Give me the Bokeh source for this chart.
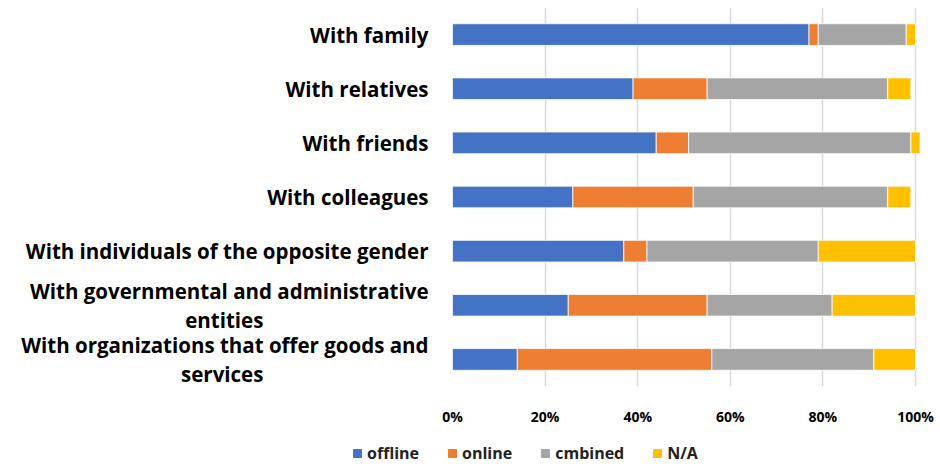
from bokeh.plotting import figure
from bokeh.layouts import column, row
from bokeh.models import Range1d, Legend, LegendItem, NumeralTickFormatter, FixedTicker
from bokeh.embed import file_html
from bokeh.resources import INLINE

PAD = "\u00a0"
categories = [
    "With family",
    "With relatives",
    "With friends",
    "With colleagues",
    "With individuals of the opposite gender",
    "With governmental and administrative\nentities" + PAD * 31,
    "With organizations that offer goods and\nservices" + PAD * 31,
]
offline = [0.77, 0.39, 0.44, 0.26, 0.37, 0.25, 0.14]
online = [0.02, 0.16, 0.07, 0.26, 0.05, 0.30, 0.42]
combined = [0.19, 0.39, 0.48, 0.42, 0.37, 0.27, 0.35]
na = [0.02, 0.05, 0.02, 0.05, 0.21, 0.18, 0.09]
series = ["offline", "online", "combined", "na"]
legend_labels = ["offline", "online", "cmbined", "N/A"]
colors = ["#4472C4", "#ED7D31", "#A5A5A5", "#FFC000"]
ticks = [0, 0.2, 0.4, 0.6, 0.8, 1.0]

FONT = "Open Sans"

data = dict(cat=categories, offline=offline, online=online, combined=combined, na=na)

p = figure(
    width=936, height=428,
    y_range=list(reversed(categories)),
    x_range=Range1d(0, 1.0367),
    output_backend="svg", toolbar_location=None,
    min_border_left=452, min_border_right=4, min_border_top=7, min_border_bottom=32,
)
p.outline_line_color = None

renderers = p.hbar_stack(series, y="cat", height=0.4, color=colors, source=data,
                         line_color="white", line_width=0.8)

p.xaxis.ticker = FixedTicker(ticks=ticks)
p.xaxis.formatter = NumeralTickFormatter(format="0%")
p.xaxis.axis_line_color = None
p.xaxis.major_tick_line_color = None
p.xaxis.minor_tick_line_color = None
p.xaxis.major_label_text_font = FONT
p.xaxis.major_label_text_font_style = "bold"
p.xaxis.major_label_text_font_size = "14px"
p.xaxis.major_label_text_color = "#000000"
p.xaxis.major_label_standoff = 14

p.yaxis.axis_line_color = None
p.yaxis.major_tick_line_color = None
p.yaxis.minor_tick_line_color = None
p.yaxis.major_label_text_font = FONT
p.yaxis.major_label_text_font_style = "bold"
p.yaxis.major_label_text_font_size = "20.5px"
p.yaxis.major_label_text_color = "#000000"
p.yaxis.major_label_text_line_height = 1.05
p.yaxis.major_label_standoff = 18

p.ygrid.grid_line_color = None
p.xgrid.grid_line_color = "#D9D9D9"
p.xgrid.grid_line_width = 1.5

# legend in its own strip under the chart (its bars are hidden; only the swatches show)
lf = figure(width=936, height=36, x_range=Range1d(0, 1), y_range=Range1d(0, 1),
            output_backend="svg", toolbar_location=None,
            min_border_left=0, min_border_right=0, min_border_top=0, min_border_bottom=0)
lf.axis.visible = False
lf.grid.visible = False
lf.outline_line_color = None
ldata = dict(pos=list(range(len(categories))), offline=offline, online=online,
             combined=combined, na=na)
swatches = lf.hbar_stack(series, y="pos", height=0.4, color=colors, source=ldata)
for r in swatches:
    r.visible = False

items = [LegendItem(label=l, renderers=[r]) for l, r in zip(legend_labels, swatches)]
legend = Legend(items=items, orientation="horizontal", location=(352, 0),
                label_text_font=FONT, label_text_font_size="16px",
                label_text_font_style="bold",
                label_text_color="#222222", glyph_width=10, glyph_height=10,
                label_standoff=5, spacing=28, padding=0, margin=0,
                label_height=10, inactive_fill_alpha=0,
                border_line_color=None, background_fill_alpha=0)
lf.add_layout(legend, "center")

open("out.html", "w").write(file_html(column(p, row(lf), spacing=0), INLINE))
